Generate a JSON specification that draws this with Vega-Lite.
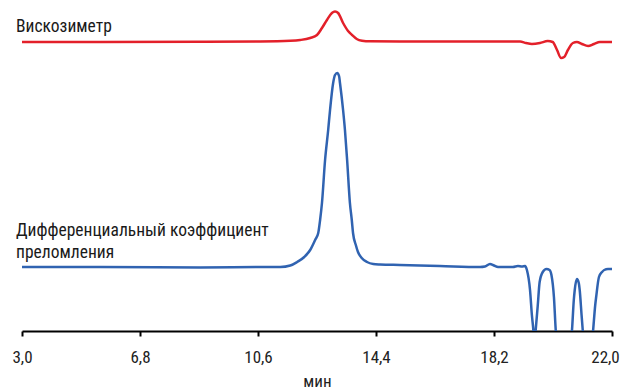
{
  "$schema": "https://vega.github.io/schema/vega-lite/v6.json",
  "width": 590,
  "height": 331,
  "autosize": {"type": "none"},
  "padding": {"left": 22, "right": 8, "top": 0, "bottom": 61},
  "config": {"view": {"stroke": null}, "font": "Roboto Condensed, Liberation Sans Narrow, Roboto"},
  "datasets": {
    "visc": [
      {"t": 3.00, "v": 289}, {"t": 5.52, "v": 289}, {"t": 8.74, "v": 289.2}, {"t": 10.67, "v": 289.5},
      {"t": 11.64, "v": 290.2}, {"t": 11.96, "v": 291}, {"t": 12.28, "v": 293}, {"t": 12.50, "v": 296},
      {"t": 12.66, "v": 303}, {"t": 12.82, "v": 311}, {"t": 12.98, "v": 318}, {"t": 13.08, "v": 319.5},
      {"t": 13.18, "v": 318}, {"t": 13.34, "v": 308}, {"t": 13.50, "v": 300}, {"t": 13.63, "v": 296},
      {"t": 13.78, "v": 292}, {"t": 13.95, "v": 290.3}, {"t": 14.21, "v": 289.7}, {"t": 15.17, "v": 289.5},
      {"t": 19.04, "v": 289.5}, {"t": 19.23, "v": 288}, {"t": 19.42, "v": 287}, {"t": 19.68, "v": 288},
      {"t": 19.93, "v": 290}, {"t": 20.09, "v": 289}, {"t": 20.23, "v": 281}, {"t": 20.36, "v": 273},
      {"t": 20.46, "v": 274}, {"t": 20.58, "v": 281}, {"t": 20.74, "v": 288}, {"t": 20.87, "v": 289},
      {"t": 21.03, "v": 287}, {"t": 21.23, "v": 285}, {"t": 21.42, "v": 287}, {"t": 21.61, "v": 289},
      {"t": 22.0, "v": 289}
    ],
    "ri": [
      {"t": 3.00, "v": 64}, {"t": 5.52, "v": 64}, {"t": 8.74, "v": 63.5}, {"t": 10.67, "v": 64},
      {"t": 11.32, "v": 64}, {"t": 11.64, "v": 65.5}, {"t": 11.86, "v": 69}, {"t": 12.09, "v": 74},
      {"t": 12.28, "v": 81}, {"t": 12.44, "v": 91}, {"t": 12.54, "v": 98}, {"t": 12.60, "v": 111},
      {"t": 12.66, "v": 128}, {"t": 12.76, "v": 171}, {"t": 12.86, "v": 201}, {"t": 12.92, "v": 221},
      {"t": 13.02, "v": 248}, {"t": 13.08, "v": 256}, {"t": 13.15, "v": 258}, {"t": 13.21, "v": 255},
      {"t": 13.24, "v": 248}, {"t": 13.34, "v": 221}, {"t": 13.40, "v": 201}, {"t": 13.47, "v": 171},
      {"t": 13.56, "v": 128}, {"t": 13.62, "v": 111}, {"t": 13.66, "v": 98}, {"t": 13.75, "v": 86},
      {"t": 13.82, "v": 79}, {"t": 13.94, "v": 73}, {"t": 14.11, "v": 69}, {"t": 14.31, "v": 67},
      {"t": 14.53, "v": 66.5}, {"t": 15.17, "v": 66}, {"t": 16.46, "v": 65}, {"t": 17.75, "v": 64},
      {"t": 17.91, "v": 64.5}, {"t": 18.07, "v": 67}, {"t": 18.20, "v": 65.5}, {"t": 18.33, "v": 64},
      {"t": 18.56, "v": 64}, {"t": 18.81, "v": 64}, {"t": 18.97, "v": 65}, {"t": 19.10, "v": 64.5},
      {"t": 19.20, "v": 65}, {"t": 19.26, "v": 61}, {"t": 19.36, "v": 41}, {"t": 19.42, "v": 16},
      {"t": 19.47, "v": 0}, {"t": 19.50, "v": -14}, {"t": 19.54, "v": 0}, {"t": 19.61, "v": 26},
      {"t": 19.67, "v": 49}, {"t": 19.77, "v": 59}, {"t": 19.89, "v": 62}, {"t": 19.99, "v": 61},
      {"t": 20.05, "v": 56}, {"t": 20.13, "v": 34}, {"t": 20.19, "v": 0}, {"t": 20.26, "v": -19},
      {"t": 20.46, "v": -69}, {"t": 20.65, "v": -19}, {"t": 20.71, "v": 0}, {"t": 20.77, "v": 31},
      {"t": 20.80, "v": 41}, {"t": 20.87, "v": 52}, {"t": 20.93, "v": 48}, {"t": 20.96, "v": 41},
      {"t": 21.02, "v": 16}, {"t": 21.06, "v": 0}, {"t": 21.22, "v": -49}, {"t": 21.39, "v": 0},
      {"t": 21.46, "v": 26}, {"t": 21.49, "v": 34}, {"t": 21.58, "v": 54}, {"t": 21.68, "v": 59},
      {"t": 21.75, "v": 61}, {"t": 21.87, "v": 62}, {"t": 22.0, "v": 62}
    ],
    "labels": [
      {"t": 3.0, "v": 299, "text": "Вискозиметр"},
      {"t": 3.0, "v": 95, "text": "Дифференциальный коэффициент"},
      {"t": 3.0, "v": 73, "text": "преломления"}
    ]
  },
  "encoding": {
    "x": {
      "field": "t", "type": "quantitative",
      "scale": {"domain": [3, 22], "nice": false, "zero": false},
      "axis": {
        "values": [3, 6.8, 10.6, 14.4, 18.2, 22],
        "labelExpr": "replace(format(datum.value, '.1f'), '.', ',')",
        "grid": false,
        "domainColor": "#000000", "domainWidth": 2,
        "tickColor": "#000000", "tickWidth": 2, "tickSize": 5,
        "labelFontSize": 17, "labelColor": "#222222", "labelPadding": 13,
        "labelFlush": false,
        "labelOffset": {"condition": {"test": "datum.value == 22", "value": -7}, "value": 0},
        "title": "мин", "titleFontSize": 17, "titleFontWeight": "normal", "titleColor": "#222222", "titlePadding": 8
      }
    },
    "y": {
      "field": "v", "type": "quantitative",
      "scale": {"domain": [0, 331], "nice": false, "zero": false},
      "axis": null
    }
  },
  "layer": [
    {
      "data": {"name": "visc"},
      "mark": {"type": "line", "color": "#e3202a", "strokeWidth": 2.5, "interpolate": "monotone"}
    },
    {
      "data": {"name": "ri"},
      "mark": {"type": "line", "color": "#3063b1", "strokeWidth": 2.5, "interpolate": "monotone", "clip": true}
    },
    {
      "data": {"name": "labels"},
      "mark": {"type": "text", "align": "left", "baseline": "alphabetic", "dx": -6, "fontSize": 17.5, "color": "#1a1a1a"},
      "encoding": {"text": {"field": "text"}}
    }
  ]
}
